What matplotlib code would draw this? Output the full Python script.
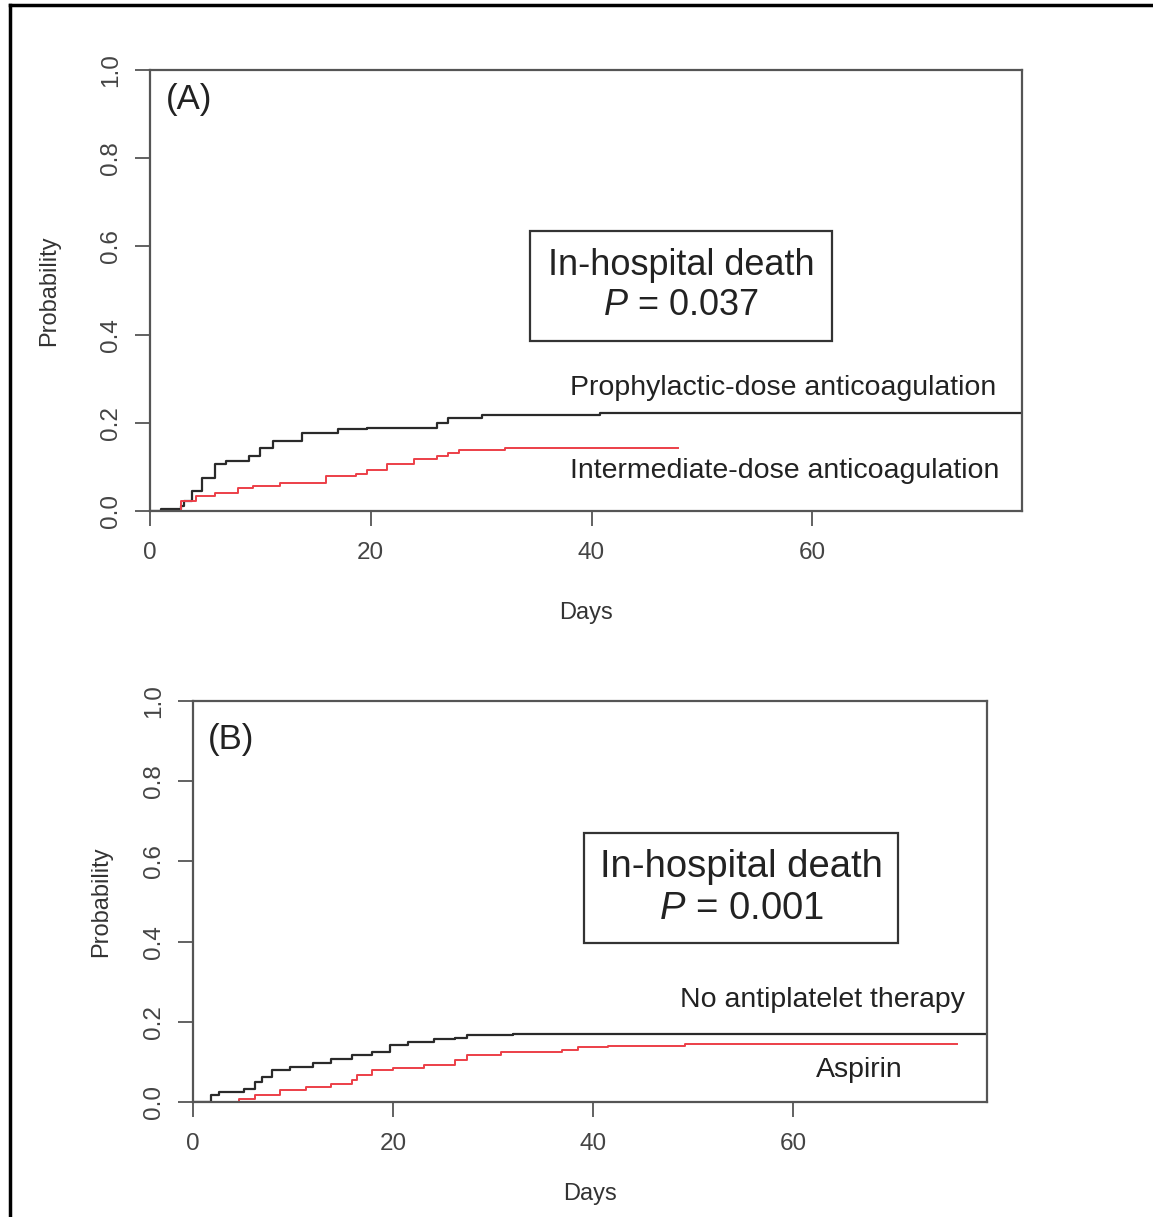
import numpy as np
import matplotlib
matplotlib.use("Agg")
import matplotlib.pyplot as plt
from matplotlib.lines import Line2D

plt.rcParams['font.family'] = ['Liberation Sans', 'DejaVu Sans']
plt.rcParams['mathtext.fontset'] = 'custom'
plt.rcParams['mathtext.rm'] = 'Liberation Sans'
plt.rcParams['mathtext.it'] = 'Liberation Sans:italic'

# panel A: cumulative in-hospital death by anticoagulation dose
a_proph_days = [0, 1.0, 2.8, 3.1, 3.8, 4.7, 5.9, 6.9, 9.0, 10.0, 11.1, 13.8, 17.0, 19.7, 26.0, 27.0, 30.1, 40.8, 79.0]
a_proph_prob = [0, 0.004, 0.011, 0.023, 0.045, 0.075, 0.106, 0.113, 0.125, 0.143, 0.158, 0.177, 0.185, 0.189, 0.200, 0.211, 0.217, 0.223, 0.223]
a_inter_days = [0, 2.8, 4.2, 5.9, 8.0, 9.3, 11.8, 15.9, 18.7, 19.7, 21.5, 23.9, 26.0, 27.0, 28.0, 32.2, 47.8]
a_inter_prob = [0, 0.023, 0.034, 0.041, 0.053, 0.057, 0.064, 0.079, 0.083, 0.094, 0.106, 0.117, 0.125, 0.132, 0.138, 0.142, 0.142]

# panel B: by antiplatelet therapy
b_none_days = [0, 1.8, 2.6, 5.1, 6.2, 6.9, 7.9, 9.7, 12.0, 13.8, 15.9, 17.9, 19.7, 21.5, 24.1, 26.2, 27.4, 32.0, 79.4]
b_none_prob = [0, 0.017, 0.025, 0.033, 0.050, 0.062, 0.079, 0.087, 0.096, 0.108, 0.117, 0.125, 0.142, 0.150, 0.156, 0.160, 0.167, 0.169, 0.169]
b_asp_days = [0, 4.6, 6.2, 8.7, 11.3, 13.8, 15.9, 16.4, 17.9, 20.0, 23.1, 26.2, 27.4, 30.8, 36.9, 38.5, 41.5, 49.2, 76.4]
b_asp_prob = [0, 0.008, 0.017, 0.029, 0.037, 0.046, 0.054, 0.067, 0.079, 0.086, 0.092, 0.104, 0.117, 0.125, 0.129, 0.136, 0.140, 0.144, 0.144]

x_ticks = [0, 20, 40, 60]
y_ticks = [0.0, 0.2, 0.4, 0.6, 0.8, 1.0]

RED = '#ec3f48'
BLACK = '#2a2a2a'
GRAY = '#555555'


def style_axes(ax, xmax):
    ax.set_xlim(0, xmax)
    ax.set_ylim(0, 1)
    ax.set_xticks(x_ticks)
    ax.set_yticks(y_ticks)
    ax.set_yticklabels([f"{v:.1f}" for v in y_ticks])
    for s in ax.spines.values():
        s.set_color(GRAY)
        s.set_linewidth(1.6)
    ax.tick_params(length=11, width=1.3, color=GRAY, labelsize=17.5, labelcolor='#444444')
    ax.tick_params(axis='x', pad=11)
    ax.tick_params(axis='y', pad=9)
    for lab in ax.get_yticklabels():
        lab.set_rotation(90)
        lab.set_va('center')
    ax.set_xlabel("Days", fontsize=17, color='#333333')
    ax.set_ylabel("Probability", fontsize=17, color='#333333')


fig = plt.figure(figsize=(11.53, 12.17), dpi=100)

axA = fig.add_axes([0.1301, 0.5801, 0.7563, 0.3624])
axA.step(a_proph_days, a_proph_prob, where='post', color=BLACK, lw=1.6)
axA.step(a_inter_days, a_inter_prob, where='post', color=RED, lw=1.4)
style_axes(axA, 79)
axA.xaxis.set_label_coords(0.5, -0.207)
axA.yaxis.set_label_coords(-0.103, 0.5)
axA.text(1.4, 0.932, "(A)", fontsize=25, ha='left', va='center', color='#222222')
axA.text(48.1, 0.511, "In-hospital death\n$P$ = 0.037", fontsize=26, ha='center', va='center',
         color='#222222', linespacing=1.2,
         bbox=dict(boxstyle='square,pad=0.48', fc='white', ec='#333333', lw=1.6))
axA.text(57.4, 0.28, "Prophylactic-dose anticoagulation", fontsize=20.5, ha='center', va='center', color='#222222')
axA.text(57.5, 0.091, "Intermediate-dose anticoagulation", fontsize=20.5, ha='center', va='center', color='#222222')

axB = fig.add_axes([0.1674, 0.0945, 0.6886, 0.3295])
axB.step(b_none_days, b_none_prob, where='post', color=BLACK, lw=1.6)
axB.step(b_asp_days, b_asp_prob, where='post', color=RED, lw=1.4)
style_axes(axB, 79.4)
axB.xaxis.set_label_coords(0.5, -0.202)
axB.yaxis.set_label_coords(-0.102, 0.5)
axB.text(1.5, 0.903, "(B)", fontsize=25, ha='left', va='center', color='#222222')
axB.text(54.8, 0.534, "In-hospital death\n$P$ = 0.001", fontsize=27.5, ha='center', va='center',
         color='#222222', linespacing=1.2,
         bbox=dict(boxstyle='square,pad=0.42', fc='white', ec='#333333', lw=1.6))
axB.text(63.0, 0.254, "No antiplatelet therapy", fontsize=20.5, ha='center', va='center', color='#222222')
axB.text(66.6, 0.08, "Aspirin", fontsize=20.5, ha='center', va='center', color='#222222')

# outer frame (top and left only)
fig.add_artist(Line2D([10 / 1153, 10 / 1153], [0, 1 - 5 / 1217], color='black', lw=2.5))
fig.add_artist(Line2D([10 / 1153, 1], [1 - 5 / 1217, 1 - 5 / 1217], color='black', lw=2.5))

fig.savefig("out.png", dpi=100)
